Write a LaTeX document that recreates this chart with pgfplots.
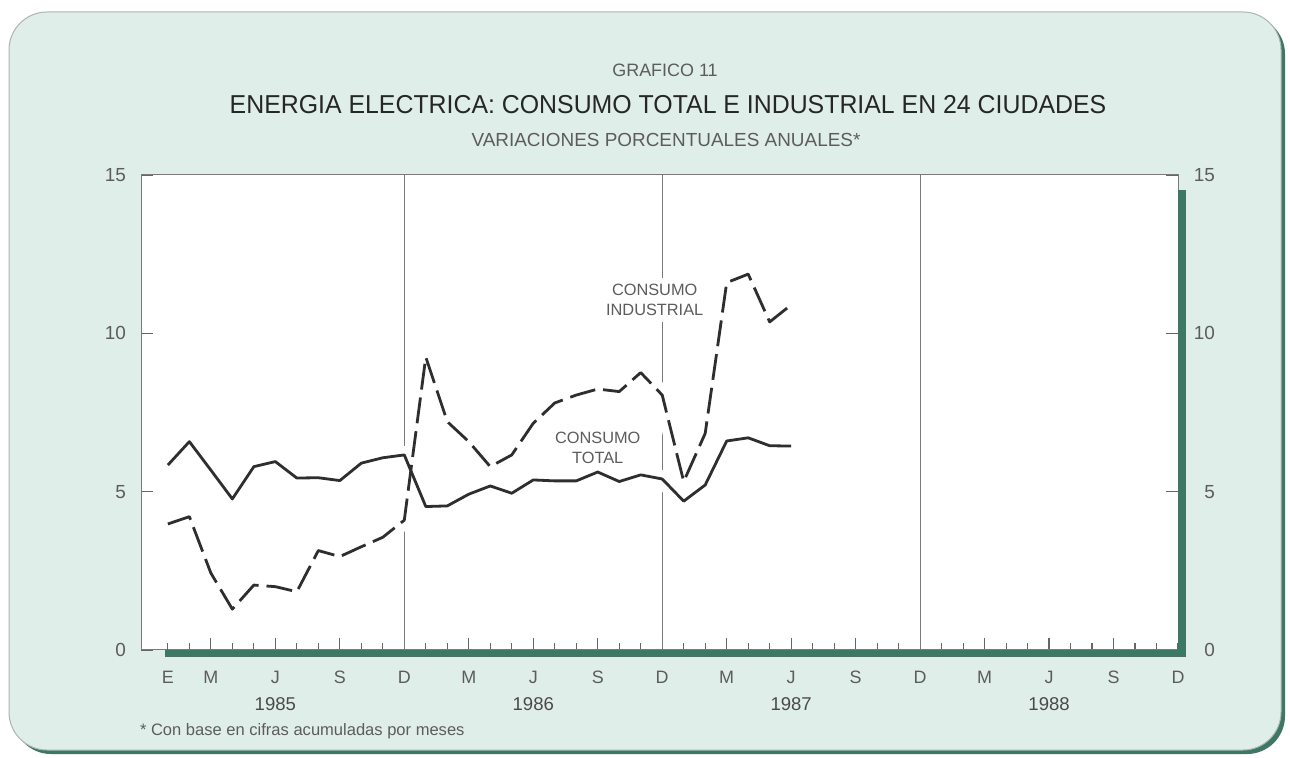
\documentclass[border=0pt]{standalone}
\usepackage{fontspec}
\usepackage{graphicx}
\usepackage{pgfplots}
\pgfplotsset{compat=1.18}
\usepackage{pgfplotstable}
\setmainfont{Liberation Sans}
\definecolor{panel}{HTML}{E0EEE9}
\definecolor{dkgreen}{HTML}{3C7864}
\definecolor{txt}{HTML}{4A4A4A}
\definecolor{ticktxt}{HTML}{5C5C5C}
\definecolor{ln}{HTML}{2E2E2E}
\definecolor{axgrey}{HTML}{7A7A7A}
\pgfplotstableread{
m total ind
1 5.84 3.98
2 6.58 4.21
3 5.68 2.43
4 4.77 1.29
5 5.79 2.05
6 5.95 2.00
7 5.43 1.84
8 5.44 3.14
9 5.35 2.95
10 5.90 3.26
11 6.07 3.56
12 6.16 4.10
13 4.53 9.25
14 4.55 7.21
15 4.92 6.58
16 5.18 5.79
17 4.95 6.16
18 5.37 7.16
19 5.34 7.80
20 5.34 8.05
21 5.62 8.24
22 5.32 8.16
23 5.53 8.76
24 5.40 8.05
25 4.70 5.32
26 5.21 6.84
27 6.60 11.60
28 6.70 11.87
29 6.45 10.36
30 6.44 10.90
}\data
\tikzset{rlab/.style={anchor=east, text=ticktxt, font=\fontsize{9.5}{10}\selectfont, xshift=22bp},
         ylab/.style={text=txt, font=\fontsize{9.3}{10}\selectfont, yshift=-27bp}}
\begin{document}
\begin{tikzpicture}
\begin{scope}[x=0.5bp,y=0.5bp]
\path[use as bounding box] (0,0) rectangle (1290,757);
\fill[white] (0,0) rectangle (1290,757);
\fill[dkgreen, rounded corners=19bp] (13,3) rectangle (1285,741);
\filldraw[fill=panel, draw=gray!60, line width=0.5bp, rounded corners=19bp] (9,7) rectangle (1281,745);
\node[text=ticktxt, font=\fontsize{9}{11}\selectfont] at (665,687) {GRAFICO 11};
\node[text=black!85, font=\fontsize{13}{15}\selectfont] at (668,652) {\scalebox{0.96}[1]{ENERGIA ELECTRICA: CONSUMO TOTAL E INDUSTRIAL EN 24 CIUDADES}};
\node[text=ticktxt, font=\fontsize{9.5}{11}\selectfont] at (666,617) {VARIACIONES PORCENTUALES ANUALES*};
\end{scope}
\begin{axis}[
  at={(70.5bp,53.5bp)}, anchor=south west, scale only axis,
  width=518.5bp, height=237.5bp,
  xmin=-0.25, xmax=48, ymin=0, ymax=15,
  axis background/.style={fill=white},
  axis line style={draw=axgrey, line width=0.5bp},
  clip=false,
  xtick={3,6,9,15,18,21,27,30,33,39,42,45},
  xticklabels={M,J,S,M,J,S,M,J,S,M,J,S},
  extra x ticks={1,12,24,36,48},
  extra x tick labels={E,D,D,D,D},
  extra x tick style={major tick length=3.5bp},
  minor xtick={2,4,5,7,8,10,11,13,14,16,17,19,20,22,23,25,26,28,29,31,32,34,35,37,38,40,41,43,44,46,47},
  xtick pos=left, xtick align=inside,
  ytick={0,5,10,15}, ytick pos=both, ytick align=inside, yticklabel pos=left,
  major tick length=6bp, minor tick length=3.5bp,
  tick style={draw=black!60, line width=0.6bp},
  /pgf/number format/assume math mode=true,
  ticklabel style={text=ticktxt, font=\fontsize{9}{10}\selectfont},
  xticklabel style={yshift=-7bp},
  yticklabel style={xshift=-4bp, font=\fontsize{9.5}{10}\selectfont},
]
\draw[axgrey, line width=0.5bp] (axis cs:12,0) -- (axis cs:12,15);
\draw[axgrey, line width=0.5bp] (axis cs:24,0) -- (axis cs:24,15);
\draw[axgrey, line width=0.5bp] (axis cs:36,0) -- (axis cs:36,15);
\addplot[white, line width=9bp, line join=round, line cap=round] table[x=m,y=ind]{\data};
\addplot[white, line width=9bp, line join=round, line cap=round] table[x=m,y=total]{\data};
\node[fill=white, inner sep=3bp, align=center, text=ticktxt, font=\fontsize{8.2}{10}\selectfont] at (axis cs:23.65,11.05) {CONSUMO\\INDUSTRIAL};
\node[fill=white, inner sep=1bp, align=center, text=ticktxt, font=\fontsize{8.2}{10}\selectfont] at (axis cs:21,6.38) {CONSUMO\\TOTAL};
\addplot[ln, line width=1.4bp, dash pattern=on 13bp off 4bp, line join=round] table[x=m,y=ind]{\data};
\addplot[ln, line width=1.4bp, line join=round] table[x=m,y=total]{\data};
\node[rlab] at (axis cs:48,0) {0};
\node[rlab] at (axis cs:48,5) {5};
\node[rlab] at (axis cs:48,10) {10};
\node[rlab] at (axis cs:48,15) {15};
\node[ylab] at (axis cs:6,0) {1985};
\node[ylab] at (axis cs:18,0) {1986};
\node[ylab] at (axis cs:30,0) {1987};
\node[ylab] at (axis cs:42,0) {1988};
\end{axis}
\begin{scope}[x=0.5bp,y=0.5bp]
\fill[dkgreen] (165,100) rectangle (1186,107);
\fill[dkgreen] (1178,100) rectangle (1186,567);
\node[anchor=base west, text=ticktxt, font=\fontsize{8.3}{10}\selectfont] at (133,22) {* Con base en cifras acumuladas por meses};
\end{scope}
\end{tikzpicture}
\end{document}
